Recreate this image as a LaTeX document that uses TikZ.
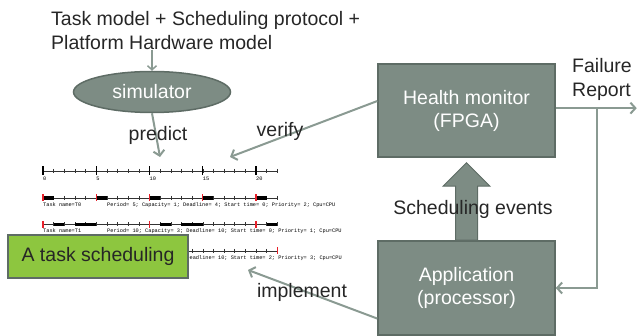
\documentclass[tikz,border=0pt]{standalone}
\usepackage{fontspec}
\setmainfont{Liberation Sans}
\newfontfamily\chartmono{Liberation Mono}
\usetikzlibrary{arrows.meta,calc,shapes.geometric}
\definecolor{boxgray}{HTML}{7D8C84}
\definecolor{boxedge}{HTML}{5E6C65}
\definecolor{arrgray}{HTML}{8A9A92}
\definecolor{txtdark}{HTML}{262626}
\definecolor{taskgreen}{HTML}{8DC63F}
\definecolor{tred}{HTML}{E8202A}
\begin{document}
\begin{tikzpicture}[x=1pt,y=-1pt,
  lbl/.style={font=\fontsize{19.5}{24}\selectfont, text=txtdark, inner sep=0pt},
  graybox/.style={draw=boxedge, line width=1.5pt, fill=boxgray, minimum width=177pt, minimum height=93pt,
    text=white, align=center, font=\fontsize{19.5}{23}\selectfont, inner sep=0pt},
  conn/.style={draw=arrgray, line width=2pt, -{Straight Barb[length=5pt,width=11pt,line width=2pt]}},
  thinconn/.style={draw=arrgray, line width=1.5pt, -{Straight Barb[length=4pt,width=9pt,line width=1.5pt]}},
  tl/.style={font=\chartmono\fontsize{5.28}{6}\selectfont, inner sep=0pt, anchor=base west, text=black},
  axisline/.style={line width=0.6pt, draw=black!80},
  minortick/.style={line width=0.5pt, draw=black!80},
  majortick/.style={line width=1.3pt, draw=black},
  redtick/.style={line width=1.3pt, draw=tred},
  runbar/.style={line width=3.5pt, draw=black},
]
\useasboundingbox (0,0) rectangle (637,336);

% top text and simulator
\node[lbl, anchor=north west, align=left] (toptext) at (51,11)
  {Task model + Scheduling protocol +\\Platform Hardware model};
\node[ellipse, draw=boxedge, line width=1.5pt, fill=boxgray, minimum width=157pt, minimum height=41pt,
  inner sep=0pt, text=white, font=\fontsize{19.5}{23}\selectfont] (sim) at (152,92) {simulator};
\draw[thinconn] (sim.north |- toptext.south) -- (sim.north);

% boxes
\node[graybox] (hm) at (466.5,110.5) {Health monitor\\(FPGA)};
\node[graybox, minimum height=94pt] (app) at (466.5,288) {Application\\(processor)};

% big block arrow
\draw[fill=boxgray, draw=boxedge, line width=1pt]
  ($(app.north)+(-11,0)$) -- ($(app.north)+(-11,-54)$) -- ($(app.north)+(-23.5,-54)$)
  -- ($(hm.south)+(0,5)$) -- ($(app.north)+(23.5,-54)$) -- ($(app.north)+(11,-54)$)
  -- ($(app.north)+(11,0)$) -- cycle;
\node[lbl, anchor=base] (schev) at (473,215) {Scheduling events};

% chart
\foreach \i in {0,...,22} \draw[minortick] ({43+\i*10.65},169) -- ++(0,4);
\draw[axisline] (43,171) -- (277.3,171);
\foreach \i in {0,5,10,15,20} {
  \draw[majortick] ({43+\i*10.65},166.5) -- ++(0,9);
  \node[tl] (ax\i) at ({43+\i*10.65},181) {\i};
}
% rows
\foreach \r in {198,224.5,251} {
  \draw[axisline] (43,\r) -- (277.3,\r);
  \foreach \i in {0,...,22} \draw[minortick] ({43+\i*10.65},\r-2) -- ++(0,4);
}
% T0
\foreach \a in {0,5,10,15,20} {
  \draw[runbar] ({43+\a*10.65},198) -- ({43+(\a+1)*10.65},198);
  \draw[redtick] ({43+\a*10.65},194.5) -- ++(0,7);
}
\node[tl] (t0a) at (43,206.5) {Task name=T0};
\node[tl] (t0b) at (107,206.5) {Period= 5; Capacity= 1; Deadline= 4; Start time= 0; Priority= 2; Cpu=CPU};
% T1
\foreach \a/\b in {1/2,3/5,11/12,13/15,21/22}
  \draw[runbar] ({43+\a*10.65},224.5) -- ({43+\b*10.65},224.5);
\foreach \a in {0,10,20}
  \draw[redtick] ({43+\a*10.65},221) -- ++(0,7);
\node[tl] (t1a) at (43,233) {Task name=T1};
\node[tl] (t1b) at (107,233) {Period= 10; Capacity= 3; Deadline= 10; Start time= 0; Priority= 1; Cpu=CPU};
% T2
\foreach \a in {2,12,22}
  \draw[redtick] ({43+\a*10.65},247.5) -- ++(0,7);
\node[tl] (t2b) at (186.25,259.5) {Deadline= 10; Start time= 2; Priority= 3; Cpu=CPU};

% green box
\node[draw=boxedge, line width=1.5pt, fill=taskgreen, minimum width=180pt, minimum height=43pt, inner sep=0pt,
  text=txtdark, font=\fontsize{19.5}{23}\selectfont] (sched) at (98,256.5) {A task scheduling};

% connectors
\coordinate (predEnd) at (160,157);
\coordinate (verEnd) at (230,157);
\coordinate (impEnd) at (248,270);
\coordinate (verStart) at ($(hm.north west)!0.4!(hm.south west)$);
\coordinate (impStart) at ($(app.north west)!0.82!(app.south west)$);
\draw[conn] (sim.south) -- (predEnd);
\draw[conn] (verStart) -- (verEnd);
\draw[conn] (impStart) -- (impEnd);
\coordinate (fr) at ($(hm.north east)!0.475!(hm.south east)$);
\coordinate (frEnd) at ($(fr)+(81,0)$);
\coordinate (br) at ($(fr)+(41,0)$);
\draw[conn] (fr) -- (frEnd);
\draw[conn] (br) |- (app.east);

% labels
\node[lbl, anchor=base] (predict) at (158,141) {predict};
\node[lbl, anchor=base] (verify) at (280,137) {verify};
\node[lbl, anchor=base] (implement) at (302,298) {implement};
\node[lbl, anchor=north west, align=left] (fail) at (572,58) {Failure\\Report};
\end{tikzpicture}
\end{document}
